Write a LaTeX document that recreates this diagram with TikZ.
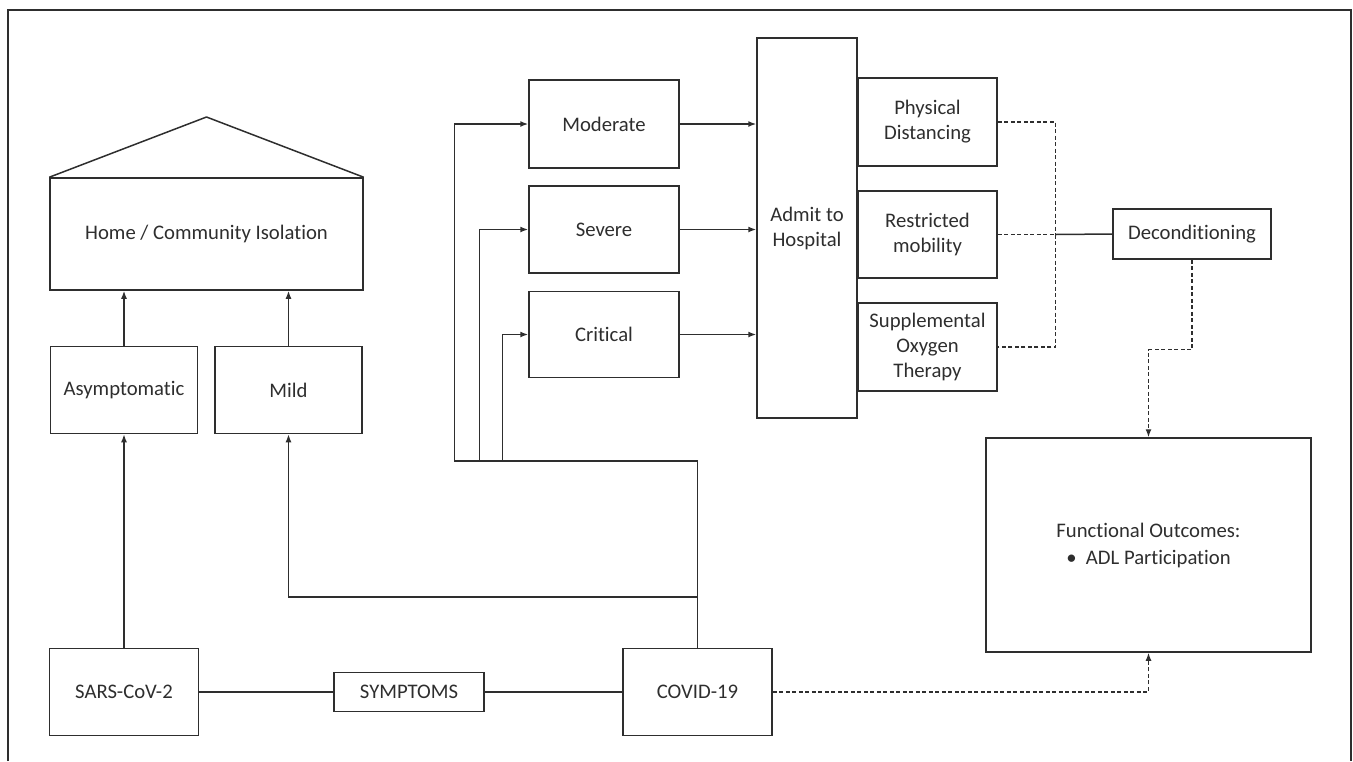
\documentclass[tikz,border=0pt]{standalone}
\usepackage{fontspec}
\setmainfont{Carlito}[Ligatures=NoCommon]
\usetikzlibrary{arrows.meta,calc}
\definecolor{ink}{HTML}{2E2E2E}
\tikzset{
  box/.style={draw=ink, line width=1.5pt, rectangle, inner sep=0pt, align=center, text=ink,
    font=\fontsize{20.7}{25}\selectfont},
  ln/.style={draw=ink, line width=1.5pt},
  arr/.style={ln, -{Latex[length=8pt,width=6pt]}},
  dsh/.style={draw=ink, line width=1.4pt, dash pattern=on 4pt off 2.5pt},
}
\begin{document}
\begin{tikzpicture}[x=1pt,y=-1pt]
\useasboundingbox (0,0) rectangle (1353,761);
% outer frame
\draw[ink, line width=1.5pt] (8,761) -- (8,10) -- (1351,10) -- (1351,761);
% house
\node[box, minimum width=313pt, minimum height=112pt] (home) at (206.5,234) {Home / Community Isolation};
\coordinate (apex) at (206.5,117);
\draw[ln, line join=round] (home.north west) -- (apex) -- (home.north east);
% left boxes
\node[box, minimum width=147pt, minimum height=87pt] (asym) at (124,390) {Asymptomatic};
\node[box, minimum width=147pt, minimum height=87pt] (mild) at (288.5,390) {Mild};
\node[box, minimum width=149pt, minimum height=87pt] (sars) at (124,692) {SARS-CoV-2};
\node[box, minimum width=150pt, minimum height=39pt] (symp) at (409,692) {SYMPTOMS};
\node[box, minimum width=149pt, minimum height=87pt] (covid) at (697.5,692) {COVID-19};
% severity
\node[box, minimum width=150pt, minimum height=88pt] (mod) at (604,124) {Moderate};
\node[box, minimum width=150pt, minimum height=87pt] (sev) at (604,229.5) {Severe};
\node[box, minimum width=150pt, minimum height=86pt] (crit) at (604,334.5) {Critical};
\node[box, minimum width=100pt, minimum height=380pt] (adm) at (807,228) {Admit to\\Hospital};
\node[box, minimum width=139pt, minimum height=88pt] (pd) at (927.5,122) {Physical\\Distancing};
\node[box, minimum width=139pt, minimum height=87pt] (rm) at (927.5,234.5) {Restricted\\mobility};
\node[box, minimum width=139pt, minimum height=88pt] (sot) at (927.5,347) {Supplemental\\Oxygen\\Therapy};
\node[box, minimum width=158pt, minimum height=50pt] (dec) at (1192,234) {Deconditioning};
\node[box, minimum width=325pt, minimum height=214pt, font=\fontsize{20.7}{27}\selectfont] (fo) at (1148.5,545) {Functional Outcomes:\\\textbullet\ \ ADL Participation};
% connectors
\draw[arr] (asym.north) -- (asym.north |- home.south);
\draw[arr] (mild.north) -- (mild.north |- home.south);
\draw[arr] (sars.north) -- (asym.south);
\draw[ln] (sars.east) -- (symp.west);
\draw[ln] (symp.east) -- (covid.west);
\draw[arr] (covid.north) -- ++(0,-51) -| (mild.south);
\coordinate (j) at ($(covid.north)+(0,-187)$);
\draw[ln] (covid.north) -- (j);
\draw[arr] (j) -| ([xshift=-74pt]mod.west) -- (mod.west);
\draw[arr] (j) -| ([xshift=-49pt]sev.west) -- (sev.west);
\draw[arr] (j) -| ([xshift=-26pt]crit.west) -- (crit.west);
\draw[arr] (mod.east) -- (mod.east -| adm.west);
\draw[arr] (sev.east) -- (sev.east -| adm.west);
\draw[arr] (crit.east) -- (crit.east -| adm.west);
\coordinate (m) at ($(rm.east)+(58,0)$);
\draw[dsh] (pd.east) -| (m);
\draw[dsh] (m) |- (sot.east);
\draw[dsh] (rm.east) -- (m);
\draw[ln] (m) -- (dec.west);
\draw[dsh, -{Latex[length=8pt,width=6pt]}] (dec.south) -- ++(0,90) -| (fo.north);
\draw[dsh, -{Latex[length=8pt,width=6pt]}] (covid.east) -| (fo.south);
\end{tikzpicture}
\end{document}
